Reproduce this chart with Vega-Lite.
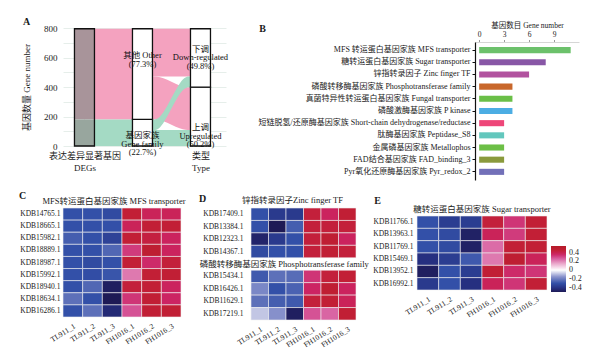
{
"$schema": "https://vega.github.io/schema/vega-lite/v6.json",
"background": "white",
"padding": {"left": 18, "top": 16, "right": 0, "bottom": 0},
"columns": 3,
"bounds": "flush",
"align": "each",
"spacing": {"row": 28, "column": 25},
"config": {
  "view": {"stroke": null},
  "font": "Liberation Serif, Noto Sans CJK SC",
  "axis": {"labelFont": "Liberation Serif, Noto Sans CJK SC", "titleFont": "Liberation Serif, Noto Sans CJK SC", "labelColor": "#1a1a1a", "titleColor": "#1a1a1a", "titleFontWeight": "normal"},
  "legend": {"labelFont": "Liberation Serif, Noto Sans CJK SC", "labelColor": "#1a1a1a"},
  "title": {"font": "Liberation Serif, Noto Sans CJK SC", "fontWeight": "normal", "fontSize": 8.5, "color": "#1a1a1a", "offset": 3, "frame": "group"},
  "text": {"font": "Liberation Serif, Noto Sans CJK SC"}
},
"datasets": {
  "flows": [
    {"id":"o1","grp":"Other","x":1.172,"y":180,"y2":795},
    {"id":"o1","grp":"Other","x":1.828,"y":180,"y2":795},
    {"id":"g1","grp":"Gene","x":1.172,"y":0,"y2":180},
    {"id":"g1","grp":"Gene","x":1.828,"y":0,"y2":180},
    {"id":"o_up","grp":"Other","x":2.172,"y":180,"y2":471},
    {"id":"o_up","grp":"Other","x":2.33,"y":180,"y2":471},
    {"id":"o_up","grp":"Other","x":2.67,"y":108,"y2":399},
    {"id":"o_up","grp":"Other","x":2.828,"y":108,"y2":399},
    {"id":"o_dn","grp":"Other","x":2.172,"y":471,"y2":795},
    {"id":"o_dn","grp":"Other","x":2.828,"y":471,"y2":795},
    {"id":"g_up","grp":"Gene","x":2.172,"y":0,"y2":108},
    {"id":"g_up","grp":"Gene","x":2.828,"y":0,"y2":108},
    {"id":"g_dn","grp":"Gene","x":2.172,"y":108,"y2":180},
    {"id":"g_dn","grp":"Gene","x":2.33,"y":108,"y2":180},
    {"id":"g_dn","grp":"Gene","x":2.67,"y":399,"y2":471},
    {"id":"g_dn","grp":"Gene","x":2.828,"y":399,"y2":471}
  ],
  "strata": [
    {"k":"deg_o","x":1,"y":180,"y2":795},
    {"k":"deg_g","x":1,"y":0,"y2":180},
    {"k":"out","x":1,"y":0,"y2":795},
    {"k":"box","x":2,"y":0,"y2":180},
    {"k":"box","x":2,"y":180,"y2":795},
    {"k":"box","x":3,"y":0,"y2":399},
    {"k":"box","x":3,"y":399,"y2":795}
  ],
  "alabels": [
    {"x":2,"y":614,"t":"其他 Other\n(77.3%)"},
    {"x":2,"y":74,"t":"基因家族\nGene family\n(22.7%)"},
    {"x":3,"y":661,"t":"下调\nDown-regulated\n(49.8%)"},
    {"x":3,"y":128,"t":"上调\nUpregulated\n(50.2%)"}
  ],
  "fams": [
    {"family":"MFS 转运蛋白基因家族 MFS transporter","count":11},
    {"family":"糖转运蛋白基因家族 Sugar transporter","count":8},
    {"family":"锌指转录因子 Zinc finger TF","count":6},
    {"family":"磷酸转移酶基因家族 Phosphotransferase family","count":4},
    {"family":"真菌特异性转运蛋白基因家族 Fungal transporter","count":4},
    {"family":"磷酸激酶基因家族 P kinase","count":4},
    {"family":"短链脱氢/还原酶基因家族 Short-chain dehydrogenase/reductase","count":3},
    {"family":"肽酶基因家族 Peptidase_S8","count":3},
    {"family":"金属磷基因家族 Metallophos","count":3},
    {"family":"FAD结合基因家族 FAD_binding_3","count":3},
    {"family":"Pyr氧化还原酶基因家族 Pyr_redox_2","count":3}
  ],
  "heat": [
    {"p":"C","g":"KDB14765.1","s":"TL911_1","v":-0.3},{"p":"C","g":"KDB14765.1","s":"TL911_2","v":-0.3},{"p":"C","g":"KDB14765.1","s":"TL911_3","v":-0.32},{"p":"C","g":"KDB14765.1","s":"FH1016_1","v":0.45},{"p":"C","g":"KDB14765.1","s":"FH1016_2","v":0.38},{"p":"C","g":"KDB14765.1","s":"FH1016_3","v":0.38},
    {"p":"C","g":"KDB18665.1","s":"TL911_1","v":-0.3},{"p":"C","g":"KDB18665.1","s":"TL911_2","v":-0.3},{"p":"C","g":"KDB18665.1","s":"TL911_3","v":-0.3},{"p":"C","g":"KDB18665.1","s":"FH1016_1","v":0.38},{"p":"C","g":"KDB18665.1","s":"FH1016_2","v":0.45},{"p":"C","g":"KDB18665.1","s":"FH1016_3","v":0.45},
    {"p":"C","g":"KDB15982.1","s":"TL911_1","v":-0.27},{"p":"C","g":"KDB15982.1","s":"TL911_2","v":-0.3},{"p":"C","g":"KDB15982.1","s":"TL911_3","v":-0.35},{"p":"C","g":"KDB15982.1","s":"FH1016_1","v":0.45},{"p":"C","g":"KDB15982.1","s":"FH1016_2","v":0.43},{"p":"C","g":"KDB15982.1","s":"FH1016_3","v":0.37},
    {"p":"C","g":"KDB18889.1","s":"TL911_1","v":-0.3},{"p":"C","g":"KDB18889.1","s":"TL911_2","v":-0.3},{"p":"C","g":"KDB18889.1","s":"TL911_3","v":-0.25},{"p":"C","g":"KDB18889.1","s":"FH1016_1","v":0.32},{"p":"C","g":"KDB18889.1","s":"FH1016_2","v":0.48},{"p":"C","g":"KDB18889.1","s":"FH1016_3","v":0.37},
    {"p":"C","g":"KDB18987.1","s":"TL911_1","v":-0.3},{"p":"C","g":"KDB18987.1","s":"TL911_2","v":-0.32},{"p":"C","g":"KDB18987.1","s":"TL911_3","v":-0.3},{"p":"C","g":"KDB18987.1","s":"FH1016_1","v":0.45},{"p":"C","g":"KDB18987.1","s":"FH1016_2","v":0.35},{"p":"C","g":"KDB18987.1","s":"FH1016_3","v":0.44},
    {"p":"C","g":"KDB15992.1","s":"TL911_1","v":-0.3},{"p":"C","g":"KDB15992.1","s":"TL911_2","v":-0.31},{"p":"C","g":"KDB15992.1","s":"TL911_3","v":-0.29},{"p":"C","g":"KDB15992.1","s":"FH1016_1","v":0.22},{"p":"C","g":"KDB15992.1","s":"FH1016_2","v":0.45},{"p":"C","g":"KDB15992.1","s":"FH1016_3","v":0.46},
    {"p":"C","g":"KDB18940.1","s":"TL911_1","v":-0.3},{"p":"C","g":"KDB18940.1","s":"TL911_2","v":-0.25},{"p":"C","g":"KDB18940.1","s":"TL911_3","v":-0.48},{"p":"C","g":"KDB18940.1","s":"FH1016_1","v":0.44},{"p":"C","g":"KDB18940.1","s":"FH1016_2","v":0.45},{"p":"C","g":"KDB18940.1","s":"FH1016_3","v":0.37},
    {"p":"C","g":"KDB18634.1","s":"TL911_1","v":-0.23},{"p":"C","g":"KDB18634.1","s":"TL911_2","v":-0.3},{"p":"C","g":"KDB18634.1","s":"TL911_3","v":-0.5},{"p":"C","g":"KDB18634.1","s":"FH1016_1","v":0.33},{"p":"C","g":"KDB18634.1","s":"FH1016_2","v":0.46},{"p":"C","g":"KDB18634.1","s":"FH1016_3","v":0.36},
    {"p":"C","g":"KDB16286.1","s":"TL911_1","v":-0.3},{"p":"C","g":"KDB16286.1","s":"TL911_2","v":-0.23},{"p":"C","g":"KDB16286.1","s":"TL911_3","v":-0.44},{"p":"C","g":"KDB16286.1","s":"FH1016_1","v":0.28},{"p":"C","g":"KDB16286.1","s":"FH1016_2","v":0.46},{"p":"C","g":"KDB16286.1","s":"FH1016_3","v":0.46},
    {"p":"D","g":"KDB17409.1","s":"TL911_1","v":-0.3},{"p":"D","g":"KDB17409.1","s":"TL911_2","v":-0.38},{"p":"D","g":"KDB17409.1","s":"TL911_3","v":-0.38},{"p":"D","g":"KDB17409.1","s":"FH1016_1","v":0.44},{"p":"D","g":"KDB17409.1","s":"FH1016_2","v":0.37},{"p":"D","g":"KDB17409.1","s":"FH1016_3","v":0.46},
    {"p":"D","g":"KDB13384.1","s":"TL911_1","v":-0.3},{"p":"D","g":"KDB13384.1","s":"TL911_2","v":-0.5},{"p":"D","g":"KDB13384.1","s":"TL911_3","v":-0.27},{"p":"D","g":"KDB13384.1","s":"FH1016_1","v":0.44},{"p":"D","g":"KDB13384.1","s":"FH1016_2","v":0.44},{"p":"D","g":"KDB13384.1","s":"FH1016_3","v":0.44},
    {"p":"D","g":"KDB12323.1","s":"TL911_1","v":-0.46},{"p":"D","g":"KDB12323.1","s":"TL911_2","v":-0.38},{"p":"D","g":"KDB12323.1","s":"TL911_3","v":-0.3},{"p":"D","g":"KDB12323.1","s":"FH1016_1","v":0.44},{"p":"D","g":"KDB12323.1","s":"FH1016_2","v":0.47},{"p":"D","g":"KDB12323.1","s":"FH1016_3","v":0.37},
    {"p":"D","g":"KDB14367.1","s":"TL911_1","v":-0.32},{"p":"D","g":"KDB14367.1","s":"TL911_2","v":-0.3},{"p":"D","g":"KDB14367.1","s":"TL911_3","v":-0.3},{"p":"D","g":"KDB14367.1","s":"FH1016_1","v":0.44},{"p":"D","g":"KDB14367.1","s":"FH1016_2","v":0.46},{"p":"D","g":"KDB14367.1","s":"FH1016_3","v":0.44},
    {"p":"D","g":"KDB15434.1","s":"TL911_1","v":-0.28},{"p":"D","g":"KDB15434.1","s":"TL911_2","v":-0.23},{"p":"D","g":"KDB15434.1","s":"TL911_3","v":-0.24},{"p":"D","g":"KDB15434.1","s":"FH1016_1","v":0.33},{"p":"D","g":"KDB15434.1","s":"FH1016_2","v":0.44},{"p":"D","g":"KDB15434.1","s":"FH1016_3","v":0.45},
    {"p":"D","g":"KDB16426.1","s":"TL911_1","v":-0.18},{"p":"D","g":"KDB16426.1","s":"TL911_2","v":-0.3},{"p":"D","g":"KDB16426.1","s":"TL911_3","v":-0.26},{"p":"D","g":"KDB16426.1","s":"FH1016_1","v":0.36},{"p":"D","g":"KDB16426.1","s":"FH1016_2","v":0.47},{"p":"D","g":"KDB16426.1","s":"FH1016_3","v":0.37},
    {"p":"D","g":"KDB11629.1","s":"TL911_1","v":-0.23},{"p":"D","g":"KDB11629.1","s":"TL911_2","v":-0.27},{"p":"D","g":"KDB11629.1","s":"TL911_3","v":-0.28},{"p":"D","g":"KDB11629.1","s":"FH1016_1","v":0.44},{"p":"D","g":"KDB11629.1","s":"FH1016_2","v":0.45},{"p":"D","g":"KDB11629.1","s":"FH1016_3","v":0.38},
    {"p":"D","g":"KDB17219.1","s":"TL911_1","v":-0.08},{"p":"D","g":"KDB17219.1","s":"TL911_2","v":-0.16},{"p":"D","g":"KDB17219.1","s":"TL911_3","v":-0.48},{"p":"D","g":"KDB17219.1","s":"FH1016_1","v":0.28},{"p":"D","g":"KDB17219.1","s":"FH1016_2","v":0.25},{"p":"D","g":"KDB17219.1","s":"FH1016_3","v":0.46},
    {"p":"E","g":"KDB11766.1","s":"TL911_1","v":-0.3},{"p":"E","g":"KDB11766.1","s":"TL911_2","v":-0.37},{"p":"E","g":"KDB11766.1","s":"TL911_3","v":-0.37},{"p":"E","g":"KDB11766.1","s":"FH1016_1","v":0.44},{"p":"E","g":"KDB11766.1","s":"FH1016_2","v":0.33},{"p":"E","g":"KDB11766.1","s":"FH1016_3","v":0.45},
    {"p":"E","g":"KDB13963.1","s":"TL911_1","v":-0.3},{"p":"E","g":"KDB13963.1","s":"TL911_2","v":-0.32},{"p":"E","g":"KDB13963.1","s":"TL911_3","v":-0.47},{"p":"E","g":"KDB13963.1","s":"FH1016_1","v":0.38},{"p":"E","g":"KDB13963.1","s":"FH1016_2","v":0.32},{"p":"E","g":"KDB13963.1","s":"FH1016_3","v":0.45},
    {"p":"E","g":"KDB11769.1","s":"TL911_1","v":-0.3},{"p":"E","g":"KDB11769.1","s":"TL911_2","v":-0.32},{"p":"E","g":"KDB11769.1","s":"TL911_3","v":-0.47},{"p":"E","g":"KDB11769.1","s":"FH1016_1","v":0.24},{"p":"E","g":"KDB11769.1","s":"FH1016_2","v":0.45},{"p":"E","g":"KDB11769.1","s":"FH1016_3","v":0.45},
    {"p":"E","g":"KDB15469.1","s":"TL911_1","v":-0.42},{"p":"E","g":"KDB15469.1","s":"TL911_2","v":-0.37},{"p":"E","g":"KDB15469.1","s":"TL911_3","v":-0.28},{"p":"E","g":"KDB15469.1","s":"FH1016_1","v":0.22},{"p":"E","g":"KDB15469.1","s":"FH1016_2","v":0.48},{"p":"E","g":"KDB15469.1","s":"FH1016_3","v":0.38},
    {"p":"E","g":"KDB13952.1","s":"TL911_1","v":-0.48},{"p":"E","g":"KDB13952.1","s":"TL911_2","v":-0.3},{"p":"E","g":"KDB13952.1","s":"TL911_3","v":-0.37},{"p":"E","g":"KDB13952.1","s":"FH1016_1","v":0.46},{"p":"E","g":"KDB13952.1","s":"FH1016_2","v":0.35},{"p":"E","g":"KDB13952.1","s":"FH1016_3","v":0.33},
    {"p":"E","g":"KDB16992.1","s":"TL911_1","v":-0.38},{"p":"E","g":"KDB16992.1","s":"TL911_2","v":-0.3},{"p":"E","g":"KDB16992.1","s":"TL911_3","v":-0.42},{"p":"E","g":"KDB16992.1","s":"FH1016_1","v":0.38},{"p":"E","g":"KDB16992.1","s":"FH1016_2","v":0.33},{"p":"E","g":"KDB16992.1","s":"FH1016_3","v":0.45}
  ]
},
"resolve": {"scale": {"color": "independent"}, "legend": {"color": "independent"}},
"concat": [
  {
    "width": 163, "height": 118,
    "encoding": {
      "x": {"field": "x", "type": "quantitative", "scale": {"domain": [0.63, 3.44], "nice": false, "zero": false, "padding": 0},
        "axis": {"values": [1,2,3], "labelExpr": "datum.value == 1 ? ['表达差异显著基因', 'DEGs'] : datum.value == 2 ? ['基因家族', 'Gene family'] : ['类型', 'Type']",
          "grid": true, "gridColor": "#e6eeea", "ticks": false, "domain": false, "labelFontSize": 9, "labelLineHeight": 12, "labelPadding": 5, "labelBaseline": "top",
          "title": "A", "titleX": -37, "titleY": -125, "titleAngle": 0, "titleFontSize": 10, "titleFontWeight": "bold", "titleAlign": "center", "titleBaseline": "middle"}},
      "y": {"field": "y", "type": "quantitative", "stack": null, "scale": {"domain": [0, 800], "nice": false, "padding": 0},
        "axis": {"values": [0,100,200,300,400,500,600,700,800], "labelExpr": "datum.value % 200 == 0 ? datum.label : ''",
          "grid": true, "gridColor": "#e6eeea", "ticks": false, "domain": false, "labelFontSize": 9, "labelPadding": 6,
          "title": "基因数量 Gene number", "titleFontSize": 9, "titlePadding": 12}}
    },
    "layer": [
      {"data": {"name": "flows"}, "transform": [{"filter": "datum.grp == 'Other'"}],
       "mark": {"type": "area", "interpolate": "basis", "color": "#f4a2bf", "opacity": 1},
       "encoding": {"y2": {"field": "y2"}, "detail": {"field": "id", "type": "nominal"}}},
      {"data": {"name": "flows"}, "transform": [{"filter": "datum.grp == 'Gene'"}],
       "mark": {"type": "area", "interpolate": "basis", "color": "#a4dac4", "opacity": 1},
       "encoding": {"y2": {"field": "y2"}, "detail": {"field": "id", "type": "nominal"}}},
      {"data": {"name": "strata"}, "transform": [{"filter": "datum.k == 'deg_o'"}],
       "mark": {"type": "bar", "orient": "vertical", "width": 20, "color": "#a8949a"},
       "encoding": {"y2": {"field": "y2"}}},
      {"data": {"name": "strata"}, "transform": [{"filter": "datum.k == 'deg_g'"}],
       "mark": {"type": "bar", "orient": "vertical", "width": 20, "color": "#98a69e"},
       "encoding": {"y2": {"field": "y2"}}},
      {"data": {"name": "strata"}, "transform": [{"filter": "datum.k == 'out'"}],
       "mark": {"type": "bar", "orient": "vertical", "width": 20, "fill": null, "fillOpacity": 0, "stroke": "#111111", "strokeWidth": 1.3},
       "encoding": {"y2": {"field": "y2"}}},
      {"data": {"name": "strata"}, "transform": [{"filter": "datum.k == 'box'"}],
       "mark": {"type": "bar", "orient": "vertical", "width": 20, "fill": "white", "stroke": "#111111", "strokeWidth": 1.3},
       "encoding": {"y2": {"field": "y2"}}},
      {"data": {"name": "alabels"},
       "mark": {"type": "text", "lineBreak": "\n", "fontSize": 8.5, "lineHeight": 8.5, "align": "center", "baseline": "middle", "color": "#111111"},
       "encoding": {"text": {"field": "t"}}}
    ]
  },
  {"width": 141, "height": 1, "data": {"values": [{"a": 1}]}, "mark": {"type": "point", "opacity": 0}, "encoding": {}},
  {
    "width": 162, "height": 152,
    "data": {"name": "fams"},
    "mark": {"type": "bar"},
    "encoding": {
      "y": {"field": "family", "type": "nominal", "sort": null, "scale": {"paddingInner": 0.5, "paddingOuter": 0.42, "range": [14, 152]},
        "axis": {"offset": -58, "domainColor": "#111111", "domainWidth": 1.2, "tickColor": "#111111", "tickSize": 3, "labelFontSize": 8, "labelPadding": 2, "labelLimit": 0,
          "title": "B", "titleAngle": 0, "titleX": -213, "titleY": 0, "titleFontSize": 10, "titleFontWeight": "bold", "titleAlign": "center", "titleBaseline": "middle"}},
      "x": {"field": "count", "type": "quantitative", "scale": {"domain": [-0.5, 12], "range": [58, 162], "nice": false, "zero": false},
        "axis": {"orient": "top", "offset": -14, "values": [0,3,6,9], "grid": false, "domain": true, "domainColor": "#d6d6d6", "tickColor": "#9a9a9a", "tickSize": 2.5, "labelPadding": 1, "labelFontSize": 7.5,
          "title": "基因数目 Gene number", "titleX": 110, "titleY": -17, "titleBaseline": "middle", "titleFontSize": 7.5}},
      "color": {"field": "family", "type": "nominal", "sort": null, "legend": null,
        "scale": {"domain": ["MFS 转运蛋白基因家族 MFS transporter","糖转运蛋白基因家族 Sugar transporter","锌指转录因子 Zinc finger TF","磷酸转移酶基因家族 Phosphotransferase family","真菌特异性转运蛋白基因家族 Fungal transporter","磷酸激酶基因家族 P kinase","短链脱氢/还原酶基因家族 Short-chain dehydrogenase/reductase","肽酶基因家族 Peptidase_S8","金属磷基因家族 Metallophos","FAD结合基因家族 FAD_binding_3","Pyr氧化还原酶基因家族 Pyr_redox_2"],
          "range": ["#6cc16b","#8857a6","#b2529f","#c8672b","#6abf47","#4cade3","#ee4679","#63c7bd","#6cbf46","#8a9a3c","#7270b8"]}}
    }
  },
  {
    "width": 118, "height": 109,
    "title": {"text": "MFS转运蛋白基因家族 MFS transporter", "dx": -8, "dy": 18},
    "data": {"name": "heat"}, "transform": [{"filter": "datum.p == 'C'"}],
    "mark": {"type": "rect", "stroke": "#f0f0f0", "strokeWidth": 0.6},
    "encoding": {
      "x": {"field": "s", "type": "nominal", "sort": ["TL911_1","TL911_2","TL911_3","FH1016_1","FH1016_2","FH1016_3"], "scale": {"paddingInner": 0, "paddingOuter": 0},
        "axis": {"title": null, "domain": false, "ticks": false, "labelAngle": -32, "labelAlign": "right", "labelBaseline": "top", "labelFontSize": 7.5, "labelPadding": 5, "labelOverlap": false}},
      "y": {"field": "g", "type": "nominal", "sort": null, "scale": {"paddingInner": 0, "paddingOuter": 0},
        "axis": {"title": "C", "titleAngle": 0, "titleX": -41, "titleY": -13, "titleFontSize": 10, "titleFontWeight": "bold", "titleAlign": "center", "titleBaseline": "middle", "domain": false, "ticks": false, "labelFontSize": 7.5, "labelPadding": 3}},
      "color": {"field": "v", "type": "quantitative", "legend": null,
        "scale": {"type": "linear", "interpolate": "rgb", "domain": [-0.5,-0.42,-0.3,-0.15,0,0.15,0.27,0.36,0.45,0.55], "range": ["#1e1a55","#262f80","#3350a8","#8c95cd","#ffffff","#eaa6ca","#d6589b","#cc2463","#c21f36","#b51b28"]}}
    }
  },
  {
    "width": 105, "height": 112,
    "title": {"text": "锌指转录因子Zinc finger TF", "dx": -11, "dy": 14},
    "encoding": {
      "x": {"field": "s", "type": "nominal", "scale": {"domain": ["TL911_1","TL911_2","TL911_3","FH1016_1","FH1016_2","FH1016_3"], "paddingInner": 0, "paddingOuter": 0},
        "axis": {"title": null, "domain": false, "ticks": false, "labelAngle": -32, "labelAlign": "right", "labelBaseline": "top", "labelFontSize": 7.5, "labelPadding": 5, "labelOverlap": false}},
      "y": {"field": "g", "type": "nominal", "scale": {"domain": ["KDB17409.1","KDB13384.1","KDB12323.1","KDB14367.1","gap","KDB15434.1","KDB16426.1","KDB11629.1","KDB17219.1"], "paddingInner": 0, "paddingOuter": 0},
        "axis": {"title": "D", "titleAngle": 0, "titleX": -49, "titleY": -10, "titleFontSize": 10, "titleFontWeight": "bold", "titleAlign": "center", "titleBaseline": "middle", "domain": false, "ticks": false, "labelFontSize": 7.5, "labelPadding": 8, "labelExpr": "datum.value == 'gap' ? '' : datum.label"}}
    },
    "layer": [
      {
        "data": {"name": "heat"}, "transform": [{"filter": "datum.p == 'D'"}],
        "mark": {"type": "rect", "stroke": "#f0f0f0", "strokeWidth": 0.6},
        "encoding": {
          "color": {"field": "v", "type": "quantitative", "legend": null,
            "scale": {"type": "linear", "interpolate": "rgb", "domain": [-0.5,-0.42,-0.3,-0.15,0,0.15,0.27,0.36,0.45,0.55], "range": ["#1e1a55","#262f80","#3350a8","#8c95cd","#ffffff","#eaa6ca","#d6589b","#cc2463","#c21f36","#b51b28"]}}
        }
      },
      {
        "data": {"values": [{"s": "TL911_2", "g": "gap", "t": "磷酸转移酶基因家族 Phosphotransferase family"}]},
        "mark": {"type": "text", "fontSize": 8.5, "align": "center", "baseline": "middle", "color": "#1a1a1a"},
        "encoding": {
          "x": {"field": "s", "type": "nominal", "bandPosition": 0.9},
          "text": {"field": "t"}
        }
      }
    ]
  },
  {
    "width": 130, "height": 82,
    "title": {"text": "糖转运蛋白基因家族 Sugar transporter", "dx": 0, "dy": 21},
    "data": {"name": "heat"}, "transform": [{"filter": "datum.p == 'E'"}],
    "mark": {"type": "rect", "stroke": "#f0f0f0", "strokeWidth": 0.6},
    "encoding": {
      "x": {"field": "s", "type": "nominal", "sort": ["TL911_1","TL911_2","TL911_3","FH1016_1","FH1016_2","FH1016_3"], "scale": {"paddingInner": 0, "paddingOuter": 0},
        "axis": {"title": null, "domain": false, "ticks": false, "labelAngle": -32, "labelAlign": "right", "labelBaseline": "top", "labelFontSize": 7.5, "labelPadding": 5, "labelOverlap": false}},
      "y": {"field": "g", "type": "nominal", "sort": null, "scale": {"paddingInner": 0, "paddingOuter": 0.3243, "align": 1},
        "axis": {"title": "E", "titleAngle": 0, "titleX": -40, "titleY": -8, "titleFontSize": 10, "titleFontWeight": "bold", "titleAlign": "center", "titleBaseline": "middle", "domain": false, "ticks": false, "labelFontSize": 7.5, "labelPadding": 4}},
      "color": {"field": "v", "type": "quantitative",
        "scale": {"type": "linear", "interpolate": "rgb", "domain": [-0.5,-0.42,-0.3,-0.15,0,0.15,0.27,0.36,0.45,0.55], "range": ["#1e1a55","#262f80","#3350a8","#8c95cd","#ffffff","#eaa6ca","#d6589b","#cc2463","#c21f36","#b51b28"]},
        "legend": {"orient": "none", "legendX": 134, "legendY": 38, "direction": "vertical", "title": null, "gradientLength": 46, "gradientThickness": 15, "gradientStrokeWidth": 0,
          "values": [-0.4,-0.2,0,0.2,0.4], "labelExpr": "datum.value == 0 ? '0' : (datum.value < 0 ? '-' + format(-datum.value, '.1f') : format(datum.value, '.1f'))",
          "labelFontSize": 8, "labelOffset": 3, "labelOverlap": false}}
    }
  }
]
}
